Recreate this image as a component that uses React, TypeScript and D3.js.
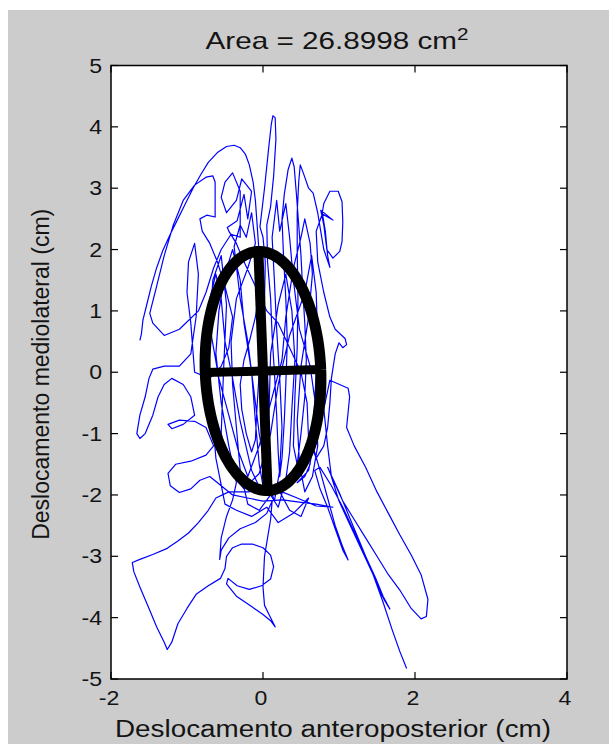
import React from 'react';
import * as d3 from 'd3';

// ---------- data ----------
const xTicks: number[] = [-2, 0, 2, 4];
const yTicks: number[] = [-5, -4, -3, -2, -1, 0, 1, 2, 3, 4, 5];
const xDomain: [number, number] = [-2, 4];
const yDomain: [number, number] = [-5, 5];
const titleMain = 'Area = 26.8998 cm';
const titleSup = '2';
const xLabel = 'Deslocamento anteroposterior (cm)';
const yLabel = 'Deslocamento mediolateral (cm)';

// confidence ellipse: centre (AP, ML), semi-axes (minor AP, major ML), tilt of major axis (rad)
const ellipseCenter: [number, number] = [0.0, 0.02];
const ellipseSemiAxes: [number, number] = [0.76, 1.95];
const ellipseTilt = -0.031;

// centre-of-pressure trace (AP, ML)
const tracePoints: [number, number][] = [
  [-1.62,0.52],[-1.60,0.62],[-1.58,0.85],[-1.53,1.10],[-1.47,1.40],[-1.40,1.70],[-1.32,1.98],[-1.22,2.25],[-1.12,2.50],[-1.02,2.75],[-0.92,3.00],[-0.82,3.22],[-0.72,3.42],[-0.60,3.58],[-0.48,3.68],[-0.38,3.70],[-0.30,3.66],[-0.23,3.55],[-0.18,3.38],[-0.13,3.10],[-0.10,2.80],[-0.08,2.45],[-0.06,2.10],[-0.04,1.70],
  [-0.05,1.30],[-0.10,0.90],[-0.18,0.50],[-0.25,0.20],[-0.30,-0.20],[-0.28,-0.60],[-0.22,-1.00],[-0.15,-1.30],[-0.10,-1.10],[-0.08,-0.60],[-0.05,0.00],[0.00,0.60],[0.02,1.20],[0.03,1.80],[0.00,2.20],[-0.04,2.37],[0.02,3.00],[0.07,3.60],[0.11,4.05],[0.13,4.18],[0.16,4.15],[0.17,3.80],[0.14,3.20],[0.10,2.70],[0.05,2.40],[0.06,1.80],[0.10,1.20],[0.12,0.60],[0.15,0.00],[0.18,-0.70],[0.20,-1.30],[0.22,-1.70],[0.25,-1.40],[0.28,-0.80],[0.30,-0.20],[0.32,0.50],[0.30,1.20],[0.27,1.90],[0.25,2.50],[0.28,2.90],[0.33,3.30],[0.38,3.49],[0.41,3.35],[0.44,2.90],[0.47,2.40],[0.50,1.90],[0.52,1.40],[0.55,0.80],[0.57,0.20],[0.55,-0.40],[0.50,-1.00],[0.45,-1.50],[0.40,-1.20],[0.42,-0.40],[0.45,0.40],[0.46,1.20],[0.45,2.00],[0.45,2.60],[0.47,3.10],[0.49,3.38],[0.53,3.25],[0.60,3.00],[0.66,2.92],[0.72,2.60],[0.75,2.37],[0.80,2.00],[0.88,1.71],
  [0.85,1.90],[0.82,2.30],[0.78,2.60],[0.80,2.75],[0.88,2.95],[0.99,2.95],[1.04,2.78],[1.05,2.45],[1.04,2.13],[1.01,1.97],[0.92,1.86],[0.84,2.00],[0.80,2.40],[0.76,2.64],[0.92,2.48],[0.78,2.58],[0.70,2.30],[0.72,1.80],[0.80,1.30],[0.88,0.90],[0.95,0.70],[1.02,0.62],[1.08,0.55],[1.10,0.45],[1.05,0.40],[1.00,0.48],[0.95,0.30],[0.90,-0.10],[0.88,-0.50],[0.85,-0.90],[0.80,-1.20],[0.70,-1.40],[0.60,-1.10],[0.58,-0.50],
  [0.50,0.00],[0.35,0.40],[0.20,0.80],[0.05,1.00],[-0.10,1.40],[-0.25,1.80],[-0.35,2.10],[-0.45,2.30],[-0.47,2.36],[-0.34,2.47],[-0.25,2.90],[-0.20,2.50],[-0.15,2.95],[-0.28,3.15],[-0.35,2.80],[-0.48,2.60],[-0.55,2.85],[-0.50,3.10],[-0.40,3.25],[-0.30,2.95],[-0.30,2.20],[-0.42,2.25],[-0.55,2.00],[-0.65,1.70],[-0.75,1.30],[-0.85,1.00],[-1.10,0.70],[-1.30,0.60],[-1.45,0.80],[-1.49,0.96],[-1.40,1.40],[-1.30,1.90],[-1.18,2.40],[-1.05,2.80],[-0.90,3.05],[-0.75,3.18],[-0.66,3.20],[-0.63,3.10],[-0.63,2.80],[-0.63,2.53],[-0.74,2.56],[-0.83,2.50],[-0.80,2.30],[-0.70,2.10],[-0.60,1.80],[-0.50,1.40],[-0.40,0.90],[-0.45,0.40],[-0.55,0.10],[-0.70,-0.10],
  [-0.90,0.00],[-0.95,0.80],[-1.00,1.30],[-0.98,1.80],[-0.90,2.10],[-0.85,1.60],[-0.88,0.90],[-0.95,0.30],[-1.10,0.10],[-1.30,0.10],[-1.45,0.05],[-1.50,-0.10],[-1.55,-0.40],[-1.62,-0.70],[-1.66,-1.00],[-1.62,-1.08],[-1.55,-1.00],[-1.45,-0.70],[-1.38,-0.40],[-1.30,-0.20],[-1.20,-0.10],[-1.05,-0.20],[-0.95,-0.40],[-0.90,-0.70],[-1.05,-0.85],[-1.20,-0.92],[-1.25,-0.85],[-1.10,-0.78],[-0.90,-0.80],[-0.75,-0.90],[-0.65,-1.20],
  [-0.75,-1.35],[-0.95,-1.45],[-1.15,-1.50],[-1.25,-1.65],[-1.22,-1.85],[-1.10,-1.96],[-0.95,-1.90],[-0.83,-1.76],[-0.70,-1.70],[-0.55,-1.85],[-0.40,-2.00],[-0.20,-2.05],[0.00,-2.10],[0.26,-2.08],[0.50,-2.12],[0.70,-2.15],[0.92,-2.20],[0.70,-2.18],[0.45,-2.05],[0.25,-1.95],[0.05,-1.92],
  [-0.20,-1.95],[-0.45,-1.95],[-0.62,-2.05],[-0.72,-2.25],[-0.85,-2.45],[-0.98,-2.62],[-1.12,-2.75],[-1.26,-2.87],[-1.45,-2.97],[-1.62,-3.05],[-1.72,-3.10],[-1.70,-3.25],[-1.62,-3.50],[-1.50,-3.85],[-1.40,-4.15],[-1.30,-4.40],[-1.26,-4.52],[-1.20,-4.40],[-1.12,-4.10],[-1.00,-3.85],[-0.88,-3.62],[-0.72,-3.48],[-0.56,-3.36],[-0.50,-3.20],
  [-0.48,-3.00],[-0.40,-2.86],[-0.28,-2.80],[-0.14,-2.80],[0.00,-2.86],[0.10,-2.98],[0.14,-3.17],[0.10,-3.37],[-0.02,-3.48],[-0.18,-3.54],[-0.34,-3.48],[-0.46,-3.36],[-0.48,-3.45],[-0.35,-3.65],[-0.15,-3.82],[0.00,-3.95],[0.10,-4.05],[0.16,-4.15],[0.10,-4.00],[0.02,-3.80],[0.00,-3.50],[0.02,-3.00],[0.06,-2.70],[0.10,-2.40],[0.12,-2.10],[0.05,-2.30],[-0.10,-2.45],[-0.30,-2.55],[-0.45,-2.70],[-0.55,-2.90],[-0.57,-3.05],[-0.55,-2.70],[-0.48,-2.35],[-0.40,-2.08],[-0.35,-1.80],
  [-0.45,-1.20],[-0.55,-0.50],[-0.62,0.30],[-0.58,1.00],[-0.50,1.60],[-0.40,2.00],[-0.30,1.50],[-0.25,0.80],[-0.15,0.00],[-0.10,-0.80],[-0.05,-1.50],[0.00,-1.85],[0.05,-1.40],[0.08,-0.60],[0.10,0.30],[0.20,1.10],[0.30,1.60],[0.38,1.00],[0.42,0.20],[0.38,-0.60],[0.35,-1.30],[0.30,-1.75],
  [0.20,-2.20],[0.10,-2.00],[-0.05,-2.25],[-0.20,-2.15],[-0.30,-1.60],[-0.35,-0.90],[-0.40,-0.20],[-0.42,0.50],[-0.35,1.20],[-0.20,1.70],[-0.10,2.10],[-0.15,2.60],[-0.22,2.20],[-0.30,2.40],[-0.38,2.05],[-0.30,1.20],[-0.20,0.50],[-0.12,-0.30],[-0.05,-1.00],[0.05,-1.70],[0.15,-2.10],[0.22,-1.60],[0.25,-0.90],[0.22,-0.10],[0.18,0.70],[0.15,1.50],[0.12,2.20],[0.18,2.80],[0.22,2.30],[0.30,2.75],[0.35,2.20],[0.40,1.50],[0.48,0.70],[0.62,0.10],[0.70,-0.60],[0.72,-1.20],[0.65,-1.70],[0.55,-1.95],[0.48,-1.50],[0.45,-0.80],[0.50,0.10],[0.60,0.90],[0.65,1.60],[0.62,2.10],[0.55,2.50],[0.50,2.20],[0.40,1.70],[0.30,0.90],[0.25,0.20],[0.10,-0.50],[-0.05,-1.20],[-0.20,-1.70],[-0.32,-1.30],[-0.45,-0.70],[-0.58,-0.10],[-0.68,0.60],[-0.70,1.20],[-0.62,1.60],[-0.55,1.20],[-0.50,0.50],[-0.40,-0.10],[-0.30,-0.80],[-0.15,-1.60],[0.00,-2.00],[0.20,-1.90],[0.35,-2.25],[0.50,-2.35],[0.60,-2.05],
  [0.40,-2.30],[0.20,-2.45],[0.05,-2.20],[-0.15,-2.35],[-0.35,-2.25],[-0.50,-2.15],[-0.62,-1.40],[-0.68,-0.50],[-0.72,0.40],[-0.66,1.50],[-0.55,1.90],[-0.48,1.10],[-0.52,0.00],[-0.55,-1.00],[-0.45,-1.60],[-0.25,-1.90],[-0.05,-1.65],[0.10,-1.00],[0.20,-0.20],[0.35,0.60],[0.55,1.30],[0.64,1.90],[0.70,1.30],[0.72,0.50],[0.68,-0.50],[0.62,-1.50],[0.55,-1.70],
  [0.45,-1.80],[0.60,-1.60],[0.66,-1.22],[0.75,-1.60],[0.85,-2.05],[0.95,-2.50],[1.05,-2.85],[1.12,-3.06],[1.05,-2.90],[0.95,-2.55],[0.85,-2.20],[0.75,-1.90],[0.68,-1.60],[0.75,-1.55],[0.90,-1.85],[1.05,-2.20],[1.20,-2.60],[1.35,-3.00],[1.48,-3.35],[1.58,-3.65],[1.67,-3.86],[1.60,-3.72],[1.55,-3.60],[1.45,-3.30],[1.30,-2.90],[1.15,-2.50],[1.00,-2.10],[0.90,-1.70],[0.85,-1.20],[0.80,-0.60],[0.88,-0.13],[1.12,-0.26],[1.14,-0.40],[1.10,-0.90],[1.20,-1.20],[1.35,-1.55],[1.50,-1.95],[1.65,-2.30],[1.80,-2.65],[1.95,-2.98],[2.08,-3.30],[2.17,-3.70],[2.15,-3.98],[2.08,-4.02],[1.95,-3.85],[1.80,-3.55],[1.65,-3.30],[1.50,-3.00],[1.35,-2.70],[1.20,-2.40],[1.05,-2.10],[0.92,-1.75],[0.85,-1.55],[1.00,-1.95],[1.15,-2.40],[1.30,-2.85],[1.45,-3.30],[1.58,-3.75],[1.70,-4.20],[1.80,-4.55],[1.89,-4.83],
];

// ---------- layout ----------
const W = 609;
const H = 744;
const AX = { left: 111, right: 567, top: 65.5, bottom: 679 };
const FONT = '"Liberation Sans", Arial, Helvetica, sans-serif';
const TICK = 7;
const TEXT = '#141414';

export default function App() {
  const x = d3.scaleLinear().domain(xDomain).range([AX.left, AX.right]);
  const y = d3.scaleLinear().domain(yDomain).range([AX.bottom, AX.top]);

  const line = d3.line<[number, number]>().x(d => x(d[0])).y(d => y(d[1]));
  const tracePath = line(tracePoints) || '';

  const [cx, cy] = ellipseCenter;
  const [a, b] = ellipseSemiAxes;
  const u: [number, number] = [Math.cos(ellipseTilt), -Math.sin(ellipseTilt)]; // minor dir
  const v: [number, number] = [Math.sin(ellipseTilt), Math.cos(ellipseTilt)]; // major dir
  const angles = d3.range(0, 2 * Math.PI + 0.001, Math.PI / 90);
  const ellPts: [number, number][] = angles.map(t => [
    cx + a * Math.cos(t) * u[0] + b * Math.sin(t) * v[0],
    cy + a * Math.cos(t) * u[1] + b * Math.sin(t) * v[1],
  ]);
  const ellPath = line(ellPts) || '';
  const majorAxis = line([[cx - b * v[0], cy - b * v[1]], [cx + b * v[0], cy + b * v[1]]]) || '';
  const minorAxis = line([[cx - a * u[0], cy - a * u[1]], [cx + a * u[0], cy + a * u[1]]]) || '';

  const midY = (AX.top + AX.bottom) / 2;

  return (
    <svg width={W} height={H} style={{ position: 'absolute', left: 0, top: 0, display: 'block' }}
      xmlns="http://www.w3.org/2000/svg">
      <rect x={0} y={0} width={W} height={H} fill="#ffffff" />
      <rect x={8} y={10} width={W - 8} height={H - 10} fill="#cccccc" />
      <rect x={AX.left} y={AX.top} width={AX.right - AX.left} height={AX.bottom - AX.top} fill="#ffffff" />

      <defs>
        <clipPath id="plotclip">
          <rect x={AX.left} y={AX.top} width={AX.right - AX.left} height={AX.bottom - AX.top} />
        </clipPath>
      </defs>

      <g clipPath="url(#plotclip)">
        <path d={tracePath} fill="none" stroke="#0000ff" strokeWidth={1.2} strokeLinejoin="round" />
        <path d={ellPath} fill="none" stroke="#000000" strokeWidth={11} />
        <path d={majorAxis} fill="none" stroke="#000000" strokeWidth={10} />
        <path d={minorAxis} fill="none" stroke="#000000" strokeWidth={9} />
      </g>

      {/* ticks */}
      {xTicks.map(t => (
        <g key={'xt' + t}>
          <line x1={x(t)} x2={x(t)} y1={AX.bottom} y2={AX.bottom - TICK} stroke="#000" strokeWidth={1.2} />
          <line x1={x(t)} x2={x(t)} y1={AX.top} y2={AX.top + TICK} stroke="#000" strokeWidth={1.2} />
          <g transform={`translate(${x(t) - 2}, ${AX.bottom + 26}) scale(1.1, 1)`}>
            <text x={0} y={0} textAnchor="middle" fontFamily={FONT} fontSize={21} fill={TEXT}>{t}</text>
          </g>
        </g>
      ))}
      {yTicks.map(t => (
        <g key={'yt' + t}>
          <line x1={AX.left} x2={AX.left + TICK} y1={y(t)} y2={y(t)} stroke="#000" strokeWidth={1.2} />
          <line x1={AX.right} x2={AX.right - TICK} y1={y(t)} y2={y(t)} stroke="#000" strokeWidth={1.2} />
          <g transform={`translate(${AX.left - 9}, ${y(t) + 7}) scale(1.1, 1)`}>
            <text x={0} y={0} textAnchor="end" fontFamily={FONT} fontSize={21} fill={TEXT}>{t}</text>
          </g>
        </g>
      ))}

      <rect x={AX.left} y={AX.top} width={AX.right - AX.left} height={AX.bottom - AX.top}
        fill="none" stroke="#000" strokeWidth={1.5} />

      <g transform={`translate(337, 49) scale(1.29, 1)`}>
        <text x={0} y={0} textAnchor="middle" fontFamily={FONT} fontSize={23} fill={TEXT}>
          {titleMain}
          <tspan dy={-9} fontSize={16}>{titleSup}</tspan>
        </text>
      </g>
      <g transform={`translate(333, 737) scale(1.21, 1)`}>
        <text x={0} y={0} textAnchor="middle" fontFamily={FONT} fontSize={23} fill={TEXT}>{xLabel}</text>
      </g>
      <text transform={`translate(49, ${midY + 2}) rotate(-90)`} textAnchor="middle" fontFamily={FONT} fontSize={23} fill={TEXT}>{yLabel}</text>
    </svg>
  );
}
